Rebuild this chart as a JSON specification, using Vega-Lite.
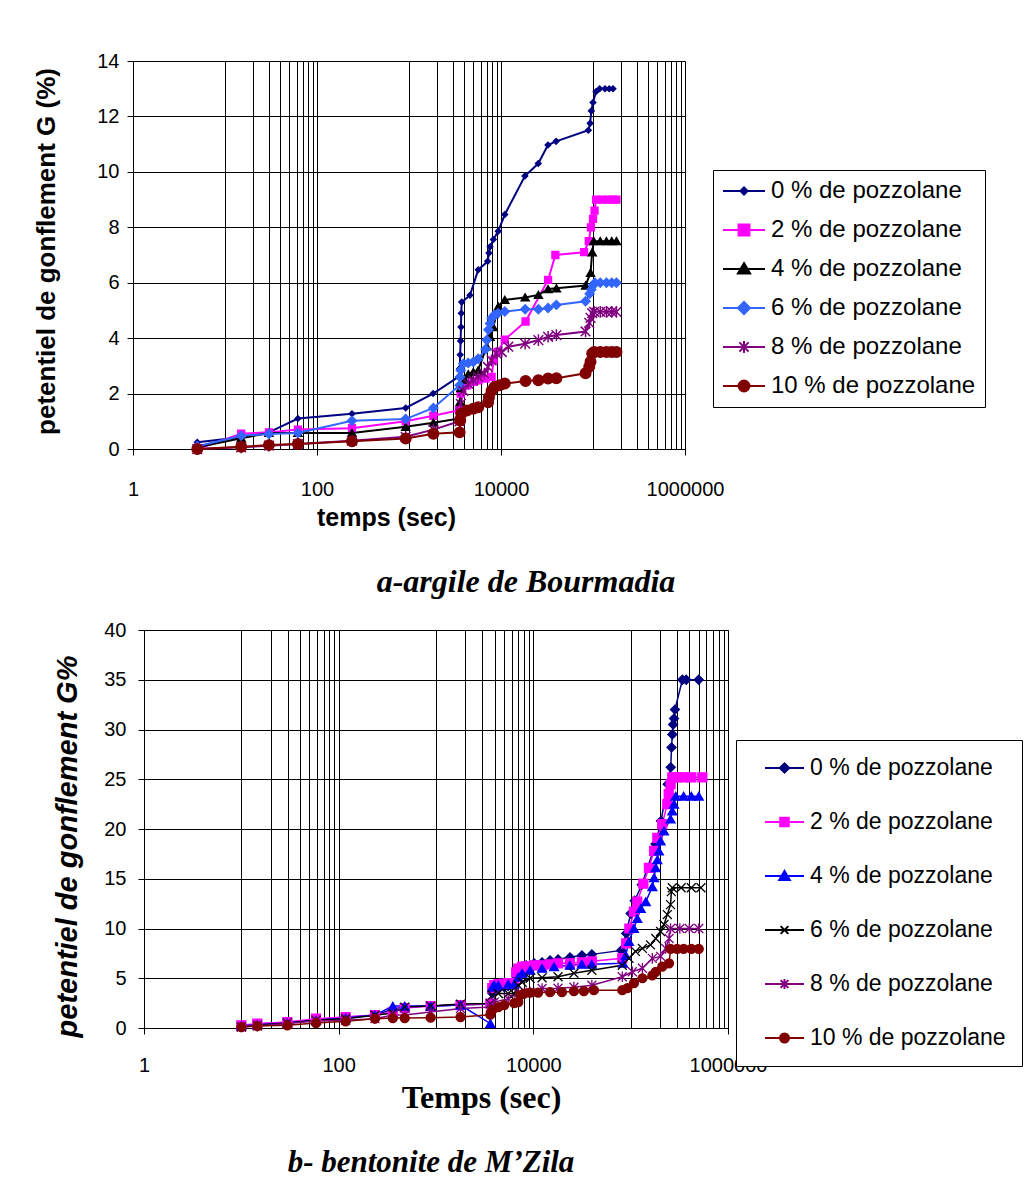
{
"$schema": "https://vega.github.io/schema/vega-lite/v6.json",
"background": "white",
"padding": {"left": 32, "top": 50, "right": 0, "bottom": 0},
"config": {"view": {"stroke": "#808080", "strokeWidth": 1}, "font": "Liberation Sans"},
"spacing": 20,
"resolve": {"scale": {"x": "independent", "y": "independent", "color": "independent", "fill": "independent", "stroke": "independent", "shape": "independent", "size": "independent"}},
"datasets": {
"A": [
{"s":"0","t":5,"g":0.24},{"s":"0","t":15,"g":0.42},{"s":"0","t":30,"g":0.6},{"s":"0","t":62,"g":1.1},{"s":"0","t":240,"g":1.27},{"s":"0","t":920,"g":1.48},{"s":"0","t":1830,"g":2.0},{"s":"0","t":3450,"g":2.6},{"s":"0","t":3560,"g":2.9},{"s":"0","t":3600,"g":3.4},{"s":"0","t":3640,"g":3.9},{"s":"0","t":3670,"g":4.4},{"s":"0","t":3700,"g":4.9},{"s":"0","t":3740,"g":5.3},{"s":"0","t":4600,"g":5.55},{"s":"0","t":5660,"g":6.47},{"s":"0","t":7160,"g":6.77},{"s":"0","t":7400,"g":7.07},{"s":"0","t":7600,"g":7.3},{"s":"0","t":8260,"g":7.56},{"s":"0","t":9330,"g":7.86},{"s":"0","t":11000,"g":8.46},{"s":"0","t":18200,"g":9.85},{"s":"0","t":25400,"g":10.3},{"s":"0","t":32400,"g":10.97},{"s":"0","t":39700,"g":11.1},{"s":"0","t":89000,"g":11.5},{"s":"0","t":93000,"g":11.75},{"s":"0","t":96000,"g":12.2},{"s":"0","t":100000,"g":12.5},{"s":"0","t":108000,"g":12.9},{"s":"0","t":118000,"g":13.0},{"s":"0","t":135000,"g":13.0},{"s":"0","t":150000,"g":13.0},{"s":"0","t":165000,"g":13.0},
{"s":"2","t":5,"g":0.0},{"s":"2","t":15,"g":0.55},{"s":"2","t":30,"g":0.6},{"s":"2","t":62,"g":0.7},{"s":"2","t":240,"g":0.75},{"s":"2","t":920,"g":1.0},{"s":"2","t":1840,"g":1.2},{"s":"2","t":3500,"g":1.4},{"s":"2","t":3650,"g":2.0},{"s":"2","t":3800,"g":2.2},{"s":"2","t":4300,"g":2.3},{"s":"2","t":5000,"g":2.42},{"s":"2","t":5700,"g":2.48},{"s":"2","t":6800,"g":2.54},{"s":"2","t":7900,"g":2.6},{"s":"2","t":8300,"g":3.2},{"s":"2","t":9200,"g":3.5},{"s":"2","t":11000,"g":3.95},{"s":"2","t":18500,"g":4.6},{"s":"2","t":32500,"g":6.1},{"s":"2","t":39000,"g":7.0},{"s":"2","t":80000,"g":7.1},{"s":"2","t":90000,"g":7.5},{"s":"2","t":95000,"g":8.0},{"s":"2","t":100000,"g":8.3},{"s":"2","t":104000,"g":8.6},{"s":"2","t":108000,"g":9.0},{"s":"2","t":125000,"g":9.0},{"s":"2","t":145000,"g":9.0},{"s":"2","t":165000,"g":9.0},{"s":"2","t":180000,"g":9.0},
{"s":"4","t":5,"g":0.06},{"s":"4","t":15,"g":0.39},{"s":"4","t":30,"g":0.58},{"s":"4","t":62,"g":0.58},{"s":"4","t":240,"g":0.58},{"s":"4","t":920,"g":0.8},{"s":"4","t":1840,"g":0.95},{"s":"4","t":3550,"g":1.1},{"s":"4","t":3600,"g":1.7},{"s":"4","t":3650,"g":2.2},{"s":"4","t":4000,"g":2.5},{"s":"4","t":4400,"g":2.7},{"s":"4","t":5000,"g":2.78},{"s":"4","t":5650,"g":2.84},{"s":"4","t":6980,"g":3.7},{"s":"4","t":7600,"g":4.05},{"s":"4","t":8250,"g":4.4},{"s":"4","t":9350,"g":5.14},{"s":"4","t":11000,"g":5.38},{"s":"4","t":18300,"g":5.47},{"s":"4","t":25500,"g":5.56},{"s":"4","t":32500,"g":5.77},{"s":"4","t":40000,"g":5.8},{"s":"4","t":83000,"g":5.9},{"s":"4","t":94000,"g":6.36},{"s":"4","t":98000,"g":7.1},{"s":"4","t":102000,"g":7.5},{"s":"4","t":120000,"g":7.5},{"s":"4","t":140000,"g":7.5},{"s":"4","t":160000,"g":7.5},{"s":"4","t":180000,"g":7.5},
{"s":"6","t":5,"g":0.1},{"s":"6","t":15,"g":0.48},{"s":"6","t":30,"g":0.54},{"s":"6","t":62,"g":0.58},{"s":"6","t":240,"g":1.02},{"s":"6","t":920,"g":1.08},{"s":"6","t":1840,"g":1.48},{"s":"6","t":3550,"g":2.3},{"s":"6","t":3600,"g":2.6},{"s":"6","t":3650,"g":2.84},{"s":"6","t":3900,"g":3.08},{"s":"6","t":4400,"g":3.1},{"s":"6","t":5000,"g":3.14},{"s":"6","t":5650,"g":3.26},{"s":"6","t":6800,"g":3.6},{"s":"6","t":7000,"g":3.93},{"s":"6","t":7300,"g":4.3},{"s":"6","t":7600,"g":4.53},{"s":"6","t":7900,"g":4.72},{"s":"6","t":8500,"g":4.84},{"s":"6","t":9300,"g":4.9},{"s":"6","t":11000,"g":4.96},{"s":"6","t":18300,"g":5.04},{"s":"6","t":25500,"g":5.04},{"s":"6","t":32500,"g":5.09},{"s":"6","t":40000,"g":5.2},{"s":"6","t":83000,"g":5.33},{"s":"6","t":92000,"g":5.6},{"s":"6","t":96000,"g":5.75},{"s":"6","t":100000,"g":5.9},{"s":"6","t":105000,"g":6.0},{"s":"6","t":120000,"g":6.0},{"s":"6","t":140000,"g":6.0},{"s":"6","t":160000,"g":6.0},{"s":"6","t":180000,"g":6.0},
{"s":"8","t":5,"g":0.0},{"s":"8","t":15,"g":0.06},{"s":"8","t":30,"g":0.12},{"s":"8","t":62,"g":0.18},{"s":"8","t":240,"g":0.3},{"s":"8","t":920,"g":0.44},{"s":"8","t":1840,"g":0.7},{"s":"8","t":3550,"g":1.0},{"s":"8","t":3600,"g":1.27},{"s":"8","t":3650,"g":1.63},{"s":"8","t":3900,"g":2.1},{"s":"8","t":4400,"g":2.36},{"s":"8","t":5000,"g":2.48},{"s":"8","t":5650,"g":2.6},{"s":"8","t":6600,"g":2.72},{"s":"8","t":7200,"g":2.96},{"s":"8","t":7900,"g":3.2},{"s":"8","t":8900,"g":3.45},{"s":"8","t":10200,"g":3.5},{"s":"8","t":12000,"g":3.69},{"s":"8","t":18300,"g":3.8},{"s":"8","t":25500,"g":3.93},{"s":"8","t":32500,"g":4.05},{"s":"8","t":40000,"g":4.11},{"s":"8","t":83000,"g":4.24},{"s":"8","t":91000,"g":4.55},{"s":"8","t":94000,"g":4.73},{"s":"8","t":98000,"g":4.9},{"s":"8","t":103000,"g":4.95},{"s":"8","t":120000,"g":4.95},{"s":"8","t":140000,"g":4.95},{"s":"8","t":160000,"g":4.95},{"s":"8","t":180000,"g":4.95},
{"s":"10","t":5,"g":0.0},{"s":"10","t":15,"g":0.08},{"s":"10","t":30,"g":0.14},{"s":"10","t":62,"g":0.18},{"s":"10","t":240,"g":0.28},{"s":"10","t":920,"g":0.38},{"s":"10","t":1840,"g":0.55},{"s":"10","t":3550,"g":0.6},{"s":"10","t":3600,"g":1.03},{"s":"10","t":3700,"g":1.27},{"s":"10","t":4250,"g":1.39},{"s":"10","t":5000,"g":1.45},{"s":"10","t":5650,"g":1.51},{"s":"10","t":7250,"g":1.69},{"s":"10","t":7400,"g":1.87},{"s":"10","t":7900,"g":2.1},{"s":"10","t":8500,"g":2.24},{"s":"10","t":9700,"g":2.3},{"s":"10","t":11000,"g":2.36},{"s":"10","t":18500,"g":2.45},{"s":"10","t":25500,"g":2.48},{"s":"10","t":32500,"g":2.54},{"s":"10","t":40000,"g":2.55},{"s":"10","t":83000,"g":2.73},{"s":"10","t":91000,"g":2.97},{"s":"10","t":94000,"g":3.15},{"s":"10","t":98000,"g":3.45},{"s":"10","t":103000,"g":3.5},{"s":"10","t":120000,"g":3.5},{"s":"10","t":140000,"g":3.5},{"s":"10","t":160000,"g":3.5},{"s":"10","t":180000,"g":3.5}
],
"B": [
{"s":"0","t":10,"g":0.2},{"s":"0","t":14.6,"g":0.34},{"s":"0","t":29.7,"g":0.5},{"s":"0","t":58.5,"g":0.84},{"s":"0","t":118,"g":1.1},{"s":"0","t":236,"g":1.25},{"s":"0","t":360,"g":1.9},{"s":"0","t":477,"g":2.1},{"s":"0","t":881,"g":2.2},{"s":"0","t":1785,"g":2.3},{"s":"0","t":3615,"g":2.4},{"s":"0","t":3790,"g":3.5},{"s":"0","t":3975,"g":3.9},{"s":"0","t":4365,"g":4.0},{"s":"0","t":5025,"g":4.1},{"s":"0","t":5520,"g":4.2},{"s":"0","t":6360,"g":4.3},{"s":"0","t":6665,"g":5.2},{"s":"0","t":7000,"g":5.8},{"s":"0","t":7680,"g":6.1},{"s":"0","t":8440,"g":6.3},{"s":"0","t":10190,"g":6.5},{"s":"0","t":12300,"g":6.6},{"s":"0","t":14860,"g":6.8},{"s":"0","t":17940,"g":6.9},{"s":"0","t":23780,"g":7.1},{"s":"0","t":31550,"g":7.3},{"s":"0","t":39920,"g":7.4},{"s":"0","t":80000,"g":7.8},{"s":"0","t":90000,"g":9.5},{"s":"0","t":100000,"g":11.5},{"s":"0","t":110000,"g":12.8},{"s":"0","t":130000,"g":14.4},{"s":"0","t":180000,"g":18.5},{"s":"0","t":205000,"g":20.8},{"s":"0","t":240000,"g":24.5},{"s":"0","t":258000,"g":26.2},{"s":"0","t":263000,"g":28.2},{"s":"0","t":268000,"g":29.5},{"s":"0","t":273000,"g":30.5},{"s":"0","t":279000,"g":31.1},{"s":"0","t":285000,"g":32.0},{"s":"0","t":340000,"g":35.0},{"s":"0","t":372000,"g":35.0},{"s":"0","t":500000,"g":35.0},
{"s":"2","t":10,"g":0.27},{"s":"2","t":14.6,"g":0.44},{"s":"2","t":29.7,"g":0.6},{"s":"2","t":58.5,"g":0.94},{"s":"2","t":118,"g":1.1},{"s":"2","t":236,"g":1.3},{"s":"2","t":360,"g":1.6},{"s":"2","t":477,"g":2.0},{"s":"2","t":881,"g":2.2},{"s":"2","t":1785,"g":2.3},{"s":"2","t":3615,"g":2.45},{"s":"2","t":3790,"g":4.0},{"s":"2","t":3975,"g":4.3},{"s":"2","t":4365,"g":4.4},{"s":"2","t":5025,"g":4.45},{"s":"2","t":5520,"g":4.5},{"s":"2","t":6360,"g":4.5},{"s":"2","t":6665,"g":5.6},{"s":"2","t":7000,"g":5.98},{"s":"2","t":7680,"g":6.15},{"s":"2","t":8440,"g":6.2},{"s":"2","t":10190,"g":6.3},{"s":"2","t":12300,"g":6.3},{"s":"2","t":14860,"g":6.4},{"s":"2","t":17940,"g":6.5},{"s":"2","t":23780,"g":6.5},{"s":"2","t":31550,"g":6.6},{"s":"2","t":39920,"g":6.7},{"s":"2","t":82000,"g":7.0},{"s":"2","t":90000,"g":8.5},{"s":"2","t":97000,"g":10.0},{"s":"2","t":108000,"g":11.7},{"s":"2","t":117000,"g":12.7},{"s":"2","t":135000,"g":14.5},{"s":"2","t":154000,"g":16.1},{"s":"2","t":174000,"g":17.8},{"s":"2","t":188000,"g":19.1},{"s":"2","t":211000,"g":20.5},{"s":"2","t":238000,"g":22.5},{"s":"2","t":246000,"g":23.5},{"s":"2","t":257000,"g":24.5},{"s":"2","t":268000,"g":25.2},{"s":"2","t":300000,"g":25.2},{"s":"2","t":350000,"g":25.2},{"s":"2","t":420000,"g":25.2},{"s":"2","t":545000,"g":25.2},
{"s":"4","t":10,"g":0.2},{"s":"4","t":14.6,"g":0.33},{"s":"4","t":29.7,"g":0.5},{"s":"4","t":58.5,"g":0.77},{"s":"4","t":118,"g":1.0},{"s":"4","t":236,"g":1.3},{"s":"4","t":360,"g":2.2},{"s":"4","t":477,"g":2.2},{"s":"4","t":881,"g":2.2},{"s":"4","t":1785,"g":2.3},{"s":"4","t":3615,"g":0.45},{"s":"4","t":3790,"g":4.1},{"s":"4","t":3975,"g":4.3},{"s":"4","t":4365,"g":4.3},{"s":"4","t":5520,"g":4.4},{"s":"4","t":6360,"g":4.4},{"s":"4","t":7000,"g":5.1},{"s":"4","t":7680,"g":5.5},{"s":"4","t":9270,"g":5.8},{"s":"4","t":12300,"g":6.0},{"s":"4","t":16320,"g":6.15},{"s":"4","t":23780,"g":6.3},{"s":"4","t":31550,"g":6.4},{"s":"4","t":39920,"g":6.4},{"s":"4","t":83600,"g":6.5},{"s":"4","t":89000,"g":7.3},{"s":"4","t":96000,"g":8.7},{"s":"4","t":108000,"g":10.0},{"s":"4","t":117000,"g":11.0},{"s":"4","t":127000,"g":12.0},{"s":"4","t":143000,"g":12.7},{"s":"4","t":167000,"g":14.2},{"s":"4","t":174000,"g":15.1},{"s":"4","t":181000,"g":16.1},{"s":"4","t":188000,"g":16.9},{"s":"4","t":195000,"g":17.8},{"s":"4","t":203000,"g":18.8},{"s":"4","t":220000,"g":19.8},{"s":"4","t":257000,"g":21.0},{"s":"4","t":268000,"g":21.8},{"s":"4","t":279000,"g":22.5},{"s":"4","t":290000,"g":23.3},{"s":"4","t":350000,"g":23.3},{"s":"4","t":420000,"g":23.3},{"s":"4","t":501000,"g":23.3},
{"s":"6","t":10,"g":0.1},{"s":"6","t":14.6,"g":0.27},{"s":"6","t":29.7,"g":0.5},{"s":"6","t":58.5,"g":0.77},{"s":"6","t":118,"g":0.94},{"s":"6","t":236,"g":1.28},{"s":"6","t":360,"g":1.5},{"s":"6","t":477,"g":2.1},{"s":"6","t":881,"g":2.2},{"s":"6","t":1785,"g":2.4},{"s":"6","t":3615,"g":2.45},{"s":"6","t":3790,"g":3.3},{"s":"6","t":4365,"g":3.46},{"s":"6","t":5520,"g":3.46},{"s":"6","t":6360,"g":3.46},{"s":"6","t":7000,"g":4.3},{"s":"6","t":7680,"g":4.6},{"s":"6","t":9270,"g":5.0},{"s":"6","t":12300,"g":5.05},{"s":"6","t":17940,"g":5.15},{"s":"6","t":26120,"g":5.5},{"s":"6","t":39920,"g":5.8},{"s":"6","t":82000,"g":6.3},{"s":"6","t":96000,"g":7.0},{"s":"6","t":112000,"g":7.7},{"s":"6","t":132000,"g":8.0},{"s":"6","t":160000,"g":8.35},{"s":"6","t":181000,"g":9.0},{"s":"6","t":203000,"g":9.7},{"s":"6","t":220000,"g":10.4},{"s":"6","t":238000,"g":11.4},{"s":"6","t":257000,"g":12.4},{"s":"6","t":262000,"g":13.7},{"s":"6","t":268000,"g":14.1},{"s":"6","t":330000,"g":14.1},{"s":"6","t":420000,"g":14.1},{"s":"6","t":527000,"g":14.1},
{"s":"8","t":10,"g":0.1},{"s":"8","t":14.6,"g":0.2},{"s":"8","t":29.7,"g":0.44},{"s":"8","t":58.5,"g":0.7},{"s":"8","t":118,"g":0.77},{"s":"8","t":236,"g":0.94},{"s":"8","t":360,"g":1.3},{"s":"8","t":477,"g":1.3},{"s":"8","t":881,"g":1.6},{"s":"8","t":1785,"g":1.95},{"s":"8","t":3615,"g":2.1},{"s":"8","t":3975,"g":2.6},{"s":"8","t":5520,"g":2.95},{"s":"8","t":7000,"g":3.5},{"s":"8","t":9270,"g":3.6},{"s":"8","t":12300,"g":3.97},{"s":"8","t":17940,"g":4.0},{"s":"8","t":26120,"g":4.1},{"s":"8","t":39920,"g":4.3},{"s":"8","t":82000,"g":5.15},{"s":"8","t":104000,"g":5.65},{"s":"8","t":132000,"g":6.0},{"s":"8","t":167000,"g":7.0},{"s":"8","t":203000,"g":7.2},{"s":"8","t":229000,"g":8.0},{"s":"8","t":248000,"g":9.0},{"s":"8","t":257000,"g":10.0},{"s":"8","t":320000,"g":10.0},{"s":"8","t":400000,"g":10.0},{"s":"8","t":501000,"g":10.0},
{"s":"10","t":10,"g":0.1},{"s":"10","t":14.6,"g":0.2},{"s":"10","t":29.7,"g":0.27},{"s":"10","t":58.5,"g":0.5},{"s":"10","t":118,"g":0.67},{"s":"10","t":236,"g":0.94},{"s":"10","t":360,"g":1.0},{"s":"10","t":477,"g":1.0},{"s":"10","t":881,"g":1.04},{"s":"10","t":1785,"g":1.1},{"s":"10","t":3615,"g":1.34},{"s":"10","t":3790,"g":1.8},{"s":"10","t":4365,"g":2.1},{"s":"10","t":5025,"g":2.3},{"s":"10","t":6360,"g":2.5},{"s":"10","t":7000,"g":2.6},{"s":"10","t":7330,"g":3.3},{"s":"10","t":8050,"g":3.46},{"s":"10","t":9270,"g":3.56},{"s":"10","t":11200,"g":3.56},{"s":"10","t":14860,"g":3.6},{"s":"10","t":19690,"g":3.6},{"s":"10","t":26120,"g":3.7},{"s":"10","t":33050,"g":3.7},{"s":"10","t":41880,"g":3.8},{"s":"10","t":82000,"g":3.8},{"s":"10","t":92500,"g":4.0},{"s":"10","t":108000,"g":4.5},{"s":"10","t":132000,"g":5.0},{"s":"10","t":167000,"g":5.3},{"s":"10","t":181000,"g":5.65},{"s":"10","t":211000,"g":6.16},{"s":"10","t":248000,"g":6.5},{"s":"10","t":257000,"g":7.95},{"s":"10","t":300000,"g":7.95},{"s":"10","t":350000,"g":7.95},{"s":"10","t":420000,"g":7.95},{"s":"10","t":501000,"g":7.95}
]
},
"vconcat": [
{
"width": 552, "height": 388,
"data": {"name": "A"},
"title": {"text": "a-argile de Bourmadia", "orient": "bottom", "anchor": "middle", "frame": "group", "dx": 117, "offset": 37, "font": "Liberation Serif", "fontSize": 32, "fontStyle": "italic", "fontWeight": "bold", "color": "black"},
"resolve": {"scale": {"color": "independent", "fill": "independent", "stroke": "independent", "shape": "independent", "size": "independent"}},
"encoding": {
"x": {"field": "t", "type": "quantitative", "scale": {"type": "log", "domain": [1, 1000000], "nice": false},
"axis": {"values": [1,10,20,30,40,50,60,70,80,90,100,1000,2000,3000,4000,5000,6000,7000,8000,9000,10000,100000,200000,300000,400000,500000,600000,700000,800000,900000,1000000],
"labelExpr": "indexof([1,100,10000,1000000], datum.value) >= 0 ? format(datum.value, 'd') : ''",
"grid": true, "gridColor": "black", "gridOpacity": 1, "gridWidth": 1,
"tickOpacity": {"condition": {"test": "indexof([1,100,10000,1000000], datum.value) >= 0", "value": 1}, "value": 0},
"tickColor": "black", "tickSize": 6, "domainColor": "black",
"labelFont": "Liberation Sans", "labelFontSize": 20, "labelColor": "black", "labelPadding": 24, "labelFlush": false, "labelOverlap": false, "labelBound": false,
"title": "temps (sec)", "titleFont": "Liberation Sans", "titleFontSize": 25, "titleFontWeight": "bold", "titleColor": "black", "titleX": 253, "titleY": 68, "titleBaseline": "middle", "titleAlign": "center"}},
"y": {"field": "g", "type": "quantitative", "scale": {"domain": [0, 14], "nice": false},
"axis": {"values": [0,2,4,6,8,10,12,14], "grid": true, "gridColor": "black", "gridOpacity": 1, "gridWidth": 1, "tickColor": "black", "tickSize": 6, "domainColor": "black",
"labelFont": "Liberation Sans", "labelFontSize": 20, "labelColor": "black", "labelPadding": 8, "labelFlush": false,
"title": "petentiel de gonflement G (%)", "titleFont": "Liberation Sans", "titleFontSize": 26, "titleFontWeight": "bold", "titleColor": "black", "titleX": -87, "titleY": 190, "titleBaseline": "middle", "titleAlign": "center", "titleAngle": 270}}
},
"layer": [
{"mark": {"type": "line", "strokeWidth": 2},
"encoding": {"color": {"field": "s", "type": "nominal", "legend": null,
"scale": {"domain": ["0","2","4","6","8","10"], "range": ["#000080","#FF00FF","#000000","#3366FF","#800080","#800000"]}}}},
{"mark": {"type": "point", "filled": true, "opacity": 1, "strokeWidth": 1.5},
"encoding": {
"fill": {"field": "s", "type": "nominal", "legend": null, "scale": {"domain": ["0","2","4","6","8","10"], "range": ["#000080","#FF00FF","#000000","#3366FF","#800080","#800000"]}},
"stroke": {"field": "s", "type": "nominal", "legend": null, "scale": {"domain": ["0","2","4","6","8","10"], "range": ["#000080","#FF00FF","#000000","#3366FF","#800080","#800000"]}},
"shape": {"field": "s", "type": "nominal", "legend": null, "scale": {"domain": ["0","2","4","6","8","10"], "range": ["diamond","square","triangle-up","diamond","M-1,-1L1,1M-1,1L1,-1M0,-1.2V1.2","circle"]}},
"size": {"field": "s", "type": "nominal", "legend": null, "scale": {"domain": ["0","2","4","6","8","10"], "range": [30,110,130,140,110,120]}}
}},
{"transform": [{"filter": "false"}],
"mark": {"type": "point", "filled": true, "opacity": 1, "strokeWidth": 2},
"encoding": {
"fill": {"field": "s", "type": "nominal", "scale": {"domain": ["0","2","4","6","8","10"], "range": ["#000080","#FF00FF","#000000","#3366FF","#800080","#800000"]},
"legend": {"orient": "none", "legendX": 580, "legendY": 109, "title": null, "labelExpr": "datum.label + ' % de pozzolane'", "labelFont": "Liberation Sans", "labelFontSize": 24, "labelColor": "black", "labelOffset": 5, "labelLimit": 400, "symbolSize": 1764, "symbolStrokeWidth": 2, "symbolOpacity": 1, "clipHeight": 24, "strokeColor": "black", "fillColor": "white", "padding": 9, "rowPadding": 15}},
"stroke": {"field": "s", "type": "nominal", "scale": {"domain": ["0","2","4","6","8","10"], "range": ["#000080","#FF00FF","#000000","#3366FF","#800080","#800000"]},
"legend": {"orient": "none", "legendX": 580, "legendY": 109, "title": null, "labelExpr": "datum.label + ' % de pozzolane'", "labelFont": "Liberation Sans", "labelFontSize": 24, "labelColor": "black", "labelOffset": 5, "labelLimit": 400, "symbolSize": 1764, "symbolStrokeWidth": 2, "symbolOpacity": 1, "clipHeight": 24, "strokeColor": "black", "fillColor": "white", "padding": 9, "rowPadding": 15}},
"shape": {"field": "s", "type": "nominal", "scale": {"domain": ["0","2","4","6","8","10"], "range": ["M-1,0H1M-0.17,0L0,-0.17L0.17,0L0,0.17Z","M-1,0H1M-0.26,-0.26H0.26V0.26H-0.26Z","M-1,0H1M0,-0.28L0.29,0.22L-0.29,0.22Z","M-1,0H1M-0.29,0L0,-0.29L0.29,0L0,0.29Z","M-1,0H1M-0.22,-0.22L0.22,0.22M-0.22,0.22L0.22,-0.22M0,-0.28V0.28","M-1,0H1M-0.26,0A0.26,0.26,0,1,0,0.26,0A0.26,0.26,0,1,0,-0.26,0Z"]},
"legend": {"orient": "none", "legendX": 580, "legendY": 109, "title": null, "labelExpr": "datum.label + ' % de pozzolane'", "labelFont": "Liberation Sans", "labelFontSize": 24, "labelColor": "black", "labelOffset": 5, "labelLimit": 400, "symbolSize": 1764, "symbolStrokeWidth": 2, "symbolOpacity": 1, "clipHeight": 24, "strokeColor": "black", "fillColor": "white", "padding": 9, "rowPadding": 15}}
}}
]
},
{
"hconcat": [
{"width": 11, "height": 1, "data": {"values": [{"z": 0}]}, "mark": {"type": "point", "opacity": 0}, "encoding": {}, "view": {"stroke": null}},
{
"width": 584, "height": 398,
"data": {"name": "B"},
"title": {"text": "b- bentonite de M’Zila", "orient": "bottom", "anchor": "middle", "frame": "group", "dx": -5, "offset": 35, "font": "Liberation Serif", "fontSize": 31, "fontStyle": "italic", "fontWeight": "bold", "color": "black"},
"resolve": {"scale": {"color": "independent", "fill": "independent", "stroke": "independent", "shape": "independent", "size": "independent"}},
"encoding": {
"x": {"field": "t", "type": "quantitative", "scale": {"type": "log", "domain": [1, 1000000], "nice": false},
"axis": {"values": [1,10,20,30,40,50,60,70,80,90,100,1000,2000,3000,4000,5000,6000,7000,8000,9000,10000,100000,200000,300000,400000,500000,600000,700000,800000,900000,1000000],
"labelExpr": "indexof([1,100,10000,1000000], datum.value) >= 0 ? format(datum.value, 'd') : ''",
"grid": true, "gridColor": "black", "gridOpacity": 1, "gridWidth": 1,
"tickOpacity": {"condition": {"test": "indexof([1,100,10000,1000000], datum.value) >= 0", "value": 1}, "value": 0},
"tickColor": "black", "tickSize": 6, "domainColor": "black",
"labelFont": "Liberation Sans", "labelFontSize": 20, "labelColor": "black", "labelPadding": 21, "labelFlush": false, "labelOverlap": false, "labelBound": false,
"title": "Temps (sec)", "titleFont": "Liberation Serif", "titleFontSize": 32, "titleFontWeight": "bold", "titleColor": "black", "titleX": 337, "titleY": 69, "titleBaseline": "middle", "titleAlign": "center"}},
"y": {"field": "g", "type": "quantitative", "scale": {"domain": [0, 40], "nice": false},
"axis": {"values": [0,5,10,15,20,25,30,35,40], "grid": true, "gridColor": "black", "gridOpacity": 1, "gridWidth": 1, "tickColor": "black", "tickSize": 6, "domainColor": "black",
"labelFont": "Liberation Sans", "labelFontSize": 20, "labelColor": "black", "labelPadding": 12, "labelFlush": false,
"title": "petentiel de gonflement  G%", "titleFont": "Liberation Sans", "titleFontSize": 29, "titleFontWeight": "bold", "titleFontStyle": "italic", "titleColor": "black", "titleX": -77, "titleY": 216, "titleBaseline": "middle", "titleAlign": "center", "titleAngle": 270}}
},
"layer": [
{"mark": {"type": "line", "strokeWidth": 1.5},
"encoding": {"color": {"field": "s", "type": "nominal", "legend": null,
"scale": {"domain": ["0","2","4","6","8","10"], "range": ["#000080","#FF00FF","#0000FF","#000000","#800080","#800000"]}}}},
{"mark": {"type": "point", "filled": true, "opacity": 1, "strokeWidth": 1.3},
"encoding": {
"fill": {"field": "s", "type": "nominal", "legend": null, "scale": {"domain": ["0","2","4","6","8","10"], "range": ["#000080","#FF00FF","#0000FF","#000000","#800080","#800000"]}},
"stroke": {"field": "s", "type": "nominal", "legend": null, "scale": {"domain": ["0","2","4","6","8","10"], "range": ["#000080","#FF00FF","#0000FF","#000000","#800080","#800000"]}},
"shape": {"field": "s", "type": "nominal", "legend": null, "scale": {"domain": ["0","2","4","6","8","10"], "range": ["diamond","square","triangle-up","M-1,-1L1,1M-1,1L1,-1","M-1,-1L1,1M-1,1L1,-1M0,-1.2V1.2","circle"]}},
"size": {"field": "s", "type": "nominal", "legend": null, "scale": {"domain": ["0","2","4","6","8","10"], "range": [80,80,90,70,70,80]}}
}},
{"transform": [{"filter": "false"}],
"mark": {"type": "point", "filled": true, "opacity": 1, "strokeWidth": 2},
"encoding": {
"fill": {"field": "s", "type": "nominal", "scale": {"domain": ["0","2","4","6","8","10"], "range": ["#000080","#FF00FF","#0000FF","#000000","#800080","#800000"]},
"legend": {"orient": "none", "legendX": 592, "legendY": 110, "title": null, "labelExpr": "datum.label + ' % de pozzolane'", "labelFont": "Liberation Sans", "labelFontSize": 23, "labelColor": "black", "labelOffset": 5, "labelLimit": 400, "symbolSize": 1521, "symbolStrokeWidth": 2, "symbolOpacity": 1, "symbolOffset": 12, "clipHeight": 24, "strokeColor": "black", "fillColor": "white", "padding": 16, "rowPadding": 30}},
"stroke": {"field": "s", "type": "nominal", "scale": {"domain": ["0","2","4","6","8","10"], "range": ["#000080","#FF00FF","#0000FF","#000000","#800080","#800000"]},
"legend": {"orient": "none", "legendX": 592, "legendY": 110, "title": null, "labelExpr": "datum.label + ' % de pozzolane'", "labelFont": "Liberation Sans", "labelFontSize": 23, "labelColor": "black", "labelOffset": 5, "labelLimit": 400, "symbolSize": 1521, "symbolStrokeWidth": 2, "symbolOpacity": 1, "symbolOffset": 12, "clipHeight": 24, "strokeColor": "black", "fillColor": "white", "padding": 16, "rowPadding": 30}},
"shape": {"field": "s", "type": "nominal", "scale": {"domain": ["0","2","4","6","8","10"], "range": ["M-1,0H1M-0.24,0L0,-0.24L0.24,0L0,0.24Z","M-1,0H1M-0.22,-0.22H0.22V0.22H-0.22Z","M-1,0H1M0,-0.26L0.27,0.2L-0.27,0.2Z","M-1,0H1M-0.2,-0.2L0.2,0.2M-0.2,0.2L0.2,-0.2","M-1,0H1M-0.2,-0.2L0.2,0.2M-0.2,0.2L0.2,-0.2M0,-0.26V0.26","M-1,0H1M-0.23,0A0.23,0.23,0,1,0,0.23,0A0.23,0.23,0,1,0,-0.23,0Z"]},
"legend": {"orient": "none", "legendX": 592, "legendY": 110, "title": null, "labelExpr": "datum.label + ' % de pozzolane'", "labelFont": "Liberation Sans", "labelFontSize": 23, "labelColor": "black", "labelOffset": 5, "labelLimit": 400, "symbolSize": 1521, "symbolStrokeWidth": 2, "symbolOpacity": 1, "symbolOffset": 12, "clipHeight": 24, "strokeColor": "black", "fillColor": "white", "padding": 16, "rowPadding": 30}}
}}
]
}
],
"spacing": 0,
"bounds": "flush"
}
]
}
